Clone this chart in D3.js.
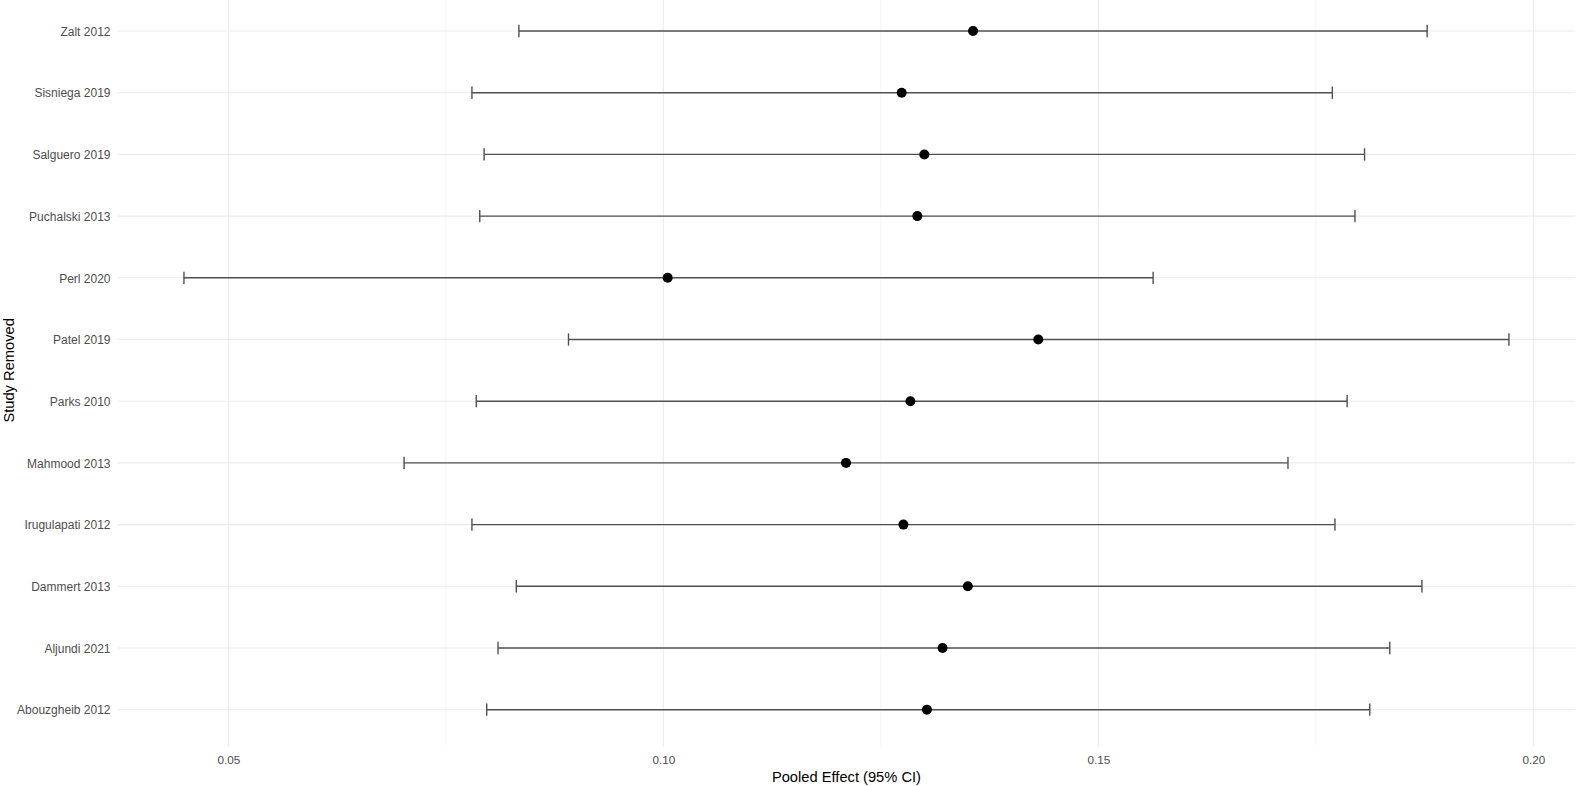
<!DOCTYPE html>
<html>
<head>
<meta charset="utf-8">
<script src="https://cdn.jsdelivr.net/npm/d3@7"></script>
<style>
  html, body { margin: 0; padding: 0; background: #ffffff; }
  svg { display: block; }
  text { font-family: "Liberation Sans", Arial, Helvetica, sans-serif; }
</style>
</head>
<body>
<svg id="chart" width="1576" height="786"></svg>
<script>
// Data (top to bottom as displayed)
const studies = ["Zalt 2012", "Sisniega 2019", "Salguero 2019", "Puchalski 2013", "Perl 2020", "Patel 2019",
                 "Parks 2010", "Mahmood 2013", "Irugulapati 2012", "Dammert 2013", "Aljundi 2021", "Abouzgheib 2012"];
const estimates = [0.1356, 0.1274, 0.1300, 0.1292, 0.1005, 0.1431, 0.1284, 0.1210, 0.1276, 0.1350, 0.1321, 0.1303];
const lowerCI   = [0.0834, 0.0780, 0.0794, 0.0789, 0.0449, 0.0891, 0.0785, 0.0702, 0.0780, 0.0831, 0.0810, 0.0797];
const upperCI   = [0.1878, 0.1769, 0.1806, 0.1795, 0.1563, 0.1972, 0.1786, 0.1718, 0.1772, 0.1872, 0.1835, 0.1812];
const xTicks = [0.05, 0.10, 0.15, 0.20];
const xMinorTicks = [0.075, 0.125, 0.175];
const xTitle = "Pooled Effect (95% CI)";
const yTitle = "Study Removed";

const rows = studies.map((s, i) => ({ study: s, est: estimates[i], lo: lowerCI[i], hi: upperCI[i] }));

const panel = { left: 117.7, right: 1575.2, top: -6, bottom: 746.7 };

const lo = d3.min(lowerCI), hi = d3.max(upperCI);
const pad = (hi - lo) * 0.05;
const x = d3.scaleLinear().domain([lo - pad, hi + pad]).range([panel.left, panel.right]);
const y = d3.scalePoint().domain(studies).range([panel.top, panel.bottom]).padding(0.6);

const svg = d3.select("#chart");

// Grid
const grid = svg.append("g");
grid.selectAll("line.minor").data(xMinorTicks).join("line")
  .attr("x1", d => x(d)).attr("x2", d => x(d))
  .attr("y1", panel.top).attr("y2", panel.bottom)
  .attr("stroke", "#ebebeb").attr("stroke-width", 0.55);
grid.selectAll("line.major").data(xTicks).join("line")
  .attr("x1", d => x(d)).attr("x2", d => x(d))
  .attr("y1", panel.top).attr("y2", panel.bottom)
  .attr("stroke", "#ebebeb").attr("stroke-width", 1.07);
grid.selectAll("line.h").data(studies).join("line")
  .attr("x1", panel.left).attr("x2", panel.right)
  .attr("y1", d => y(d)).attr("y2", d => y(d))
  .attr("stroke", "#ebebeb").attr("stroke-width", 1.07);

// Error bars
const capH = y.step() * 0.2 / 2;
const eb = svg.append("g").attr("stroke", "#505050").attr("stroke-width", 1.4);
eb.selectAll("line.bar").data(rows).join("line")
  .attr("x1", d => x(d.lo)).attr("x2", d => x(d.hi))
  .attr("y1", d => y(d.study)).attr("y2", d => y(d.study));
eb.selectAll("line.capl").data(rows).join("line")
  .attr("x1", d => x(d.lo)).attr("x2", d => x(d.lo))
  .attr("y1", d => y(d.study) - capH).attr("y2", d => y(d.study) + capH);
eb.selectAll("line.caph").data(rows).join("line")
  .attr("x1", d => x(d.hi)).attr("x2", d => x(d.hi))
  .attr("y1", d => y(d.study) - capH).attr("y2", d => y(d.study) + capH);

// Points
svg.append("g").selectAll("circle").data(rows).join("circle")
  .attr("cx", d => x(d.est)).attr("cy", d => y(d.study))
  .attr("r", 5).attr("fill", "#000");

// Axes (text only, theme_minimal style)
const xAxis = d3.axisBottom(x).tickValues(xTicks).tickFormat(d3.format(".2f")).tickSize(0).tickPadding(0);
const gx = svg.append("g").attr("transform", `translate(0,${panel.bottom})`).call(xAxis);
gx.select(".domain").remove();
gx.selectAll("text").attr("y", 17).attr("dy", 0)
  .attr("fill", "#4d4d4d").style("font-size", "11.7px")
  .style("font-family", "'Liberation Sans', Arial, sans-serif");

const yAxis = d3.axisLeft(y).tickSize(0).tickPadding(0);
const gy = svg.append("g").attr("transform", `translate(110.5,0)`).call(yAxis);
gy.select(".domain").remove();
gy.selectAll("text").attr("x", 0).attr("dy", "0.35em")
  .attr("fill", "#4d4d4d").style("font-size", "12px")
  .style("font-family", "'Liberation Sans', Arial, sans-serif");

// Titles
svg.append("text")
  .attr("x", (panel.left + panel.right) / 2).attr("y", 782)
  .attr("text-anchor", "middle").attr("fill", "#000")
  .style("font-size", "14.7px").text(xTitle);

svg.append("text")
  .attr("transform", `translate(13.5,${(panel.top + panel.bottom) / 2}) rotate(-90)`)
  .attr("text-anchor", "middle").attr("fill", "#000")
  .style("font-size", "14.7px").text(yTitle);
</script>
</body>
</html>
